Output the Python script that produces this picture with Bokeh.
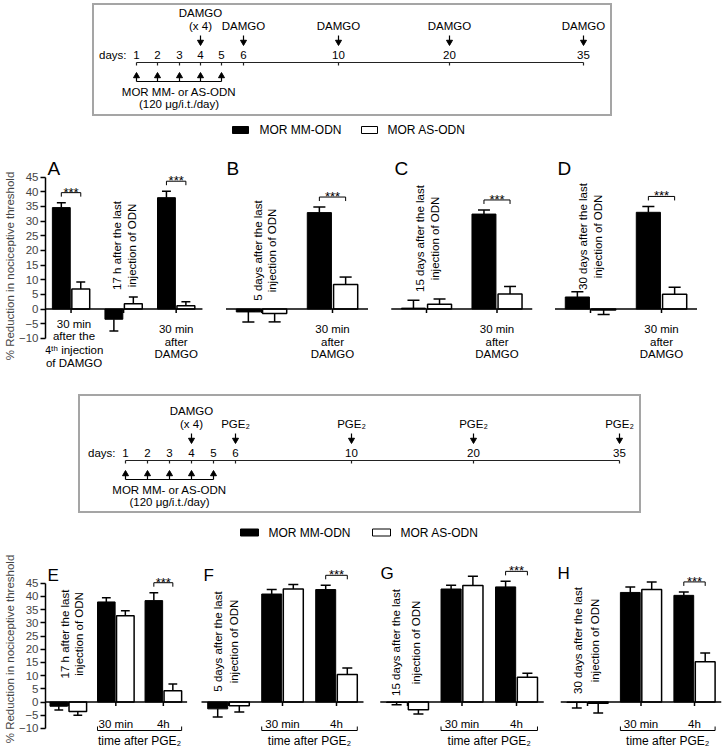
import math
from bokeh.plotting import figure
from bokeh.layouts import column, row
from bokeh.models import Range1d, FixedTicker, Spacer
from bokeh.embed import file_html
from bokeh.resources import INLINE
from bokeh.core.properties import value

FONT = "Liberation Sans"

# ============================ DATA ============================
series_labels = ["MOR MM-ODN", "MOR AS-ODN"]
series_fill = ["black", "white"]
y_ticks = [-10, -5, 0, 5, 10, 15, 20, 25, 30, 35, 40, 45]
y_title = "% Reduction in nociceptive threshold"

# Panels A-D : DAMGO (mean, SEM)
A_mm = [34.6, -3.5, 38.0]
A_mm_err = [1.7, 4.0, 2.2]
A_as = [6.8, 1.8, 1.1]
A_as_err = [2.4, 2.3, 1.4]
B_mm = [-1.0, 32.9]
B_mm_err = [3.4, 1.9]
B_as = [-1.5, 8.4]
B_as_err = [2.9, 2.5]
C_mm = [0.3, 32.4]
C_mm_err = [2.7, 1.4]
C_as = [1.6, 5.1]
C_as_err = [1.8, 2.6]
D_mm = [4.1, 33.0]
D_mm_err = [1.8, 2.0]
D_as = [-0.3, 5.0]
D_as_err = [1.6, 2.4]

# Panels E-H : PGE2 (mean, SEM)
E_mm = [-1.6, 37.9, 38.4]
E_mm_err = [1.4, 1.6, 3.0]
E_as = [-3.6, 32.7, 4.3]
E_as_err = [1.4, 1.9, 2.5]
F_mm = [-2.6, 40.9, 42.6]
F_mm_err = [3.1, 1.7, 1.6]
F_as = [-1.4, 42.8, 10.4]
F_as_err = [2.4, 1.7, 2.5]
G_mm = [-0.2, 42.8, 43.6]
G_mm_err = [0.8, 1.4, 2.1]
G_as = [-2.9, 44.1, 9.4]
G_as_err = [1.6, 3.5, 1.5]
H_mm = [-0.2, 41.5, 40.4]
H_mm_err = [2.1, 2.1, 1.3]
H_as = [-0.5, 42.6, 15.2]
H_as_err = [3.7, 2.9, 3.4]

# significant (***) groups per panel
sig_A = [0, 2]
sig_B = [1]
sig_C = [1]
sig_D = [1]
sig_E = [2]
sig_F = [2]
sig_G = [2]
sig_H = [2]

# panel texts
rot_A = ["17 h after the last", "injection of ODN"]
rot_B = ["5 days after the last", "injection of ODN"]
rot_C = ["15 days after the last", "injection of ODN"]
rot_D = ["30 days after the last", "injection of ODN"]
rot_E = ["17 h after the last", "injection of ODN"]
rot_F = ["5 days after the last", "injection of ODN"]
rot_G = ["15 days after the last", "injection of ODN"]
rot_H = ["30 days after the last", "injection of ODN"]
lab_4th = ["30 min", "after the", "4\u1d57\u02b0 injection", "of DAMGO"]
lab_damgo = ["30 min", "after", "DAMGO"]
lab_times = ["30 min", "4h"]
lab_time_after = "time after PGE\u2082"

# timelines
tl_days = ["1", "2", "3", "4", "5", "6", "10", "20", "35"]
odn_days = ["1", "2", "3", "4", "5"]
agent_days = ["4", "6", "10", "20", "35"]
tl1_agents = ["DAMGO", "DAMGO", "DAMGO", "DAMGO", "DAMGO"]
tl2_agents = ["DAMGO", "PGE\u2082", "PGE\u2082", "PGE\u2082", "PGE\u2082"]
repeat_day = "4"
repeat_note = "(x 4)"
odn_label = ["MOR MM- or AS-ODN", "(120 \u03bcg/i.t./day)"]

# ============================ LAYOUT ============================
W = 724
# schematic (non-linear) positions of the days on the two timelines, px
TL1_X = dict(zip(tl_days, [136, 157, 179, 200, 221, 243, 338, 449, 583]))
TL2_X = dict(zip(tl_days, [125, 147, 169, 191, 213, 235, 351, 473, 619]))

UP = dict(top=137, bot=394, zero=308.5, k=2.93, bw=0.34, off=0.185, lsize="19px")
LO = dict(top=543, bot=754, zero=701.5, k=2.64, bw=0.37, off=0.2, lsize="17px")
TL_FONT = "11.5px"


def txt(p, xs, ys, texts, size="11.5px", align="center", baseline="middle", angle=0.0):
    p.text(x=xs, y=ys, text=texts, angle=angle, text_align=align, text_baseline=baseline,
           text_font=value(FONT), text_font_size=size, text_color="black")


def sgn(v):
    return 1 if v >= 0 else -1


def bar_panel(geo, fx0, fx1, g0, s, mm, mm_err, as_, as_err, sig, axis_x=None):
    k = geo["k"]
    zero = geo["zero"]
    bw = geo["bw"]
    off = geo["off"]
    frame_x0 = axis_x if axis_x else fx0

    def X(xr):
        return (xr - g0) / s

    def Y(yr):
        return (zero - yr) / k

    p = figure(width=fx1 - fx0, height=geo["bot"] - geo["top"],
               x_range=Range1d(X(frame_x0), X(fx1)),
               y_range=Range1d(Y(geo["bot"]), Y(geo["top"])),
               toolbar_location=None, output_backend="svg",
               x_axis_location=None, y_axis_location=("left" if axis_x else None),
               min_border_left=(frame_x0 - fx0), min_border_right=0,
               min_border_top=0, min_border_bottom=0,
               outline_line_color=None, border_fill_color="white",
               background_fill_color="white")
    if axis_x:
        ax = p.yaxis[0]
        ax.ticker = FixedTicker(ticks=y_ticks)
        ax.bounds = (y_ticks[0], y_ticks[-1])
        ax.axis_label = y_title
        ax.axis_label_text_font = FONT
        ax.axis_label_text_font_size = "11.5px"
        ax.axis_label_text_font_style = "normal"
        ax.axis_label_standoff = 0
        ax.major_label_text_font = FONT
        ax.major_label_text_font_size = "11.5px"
        ax.major_label_standoff = 2
        ax.major_tick_out = 5
        ax.major_tick_in = 0
        ax.minor_tick_out = 0
        ax.minor_tick_in = 0
        ax.axis_line_width = 1.5
        ax.major_tick_line_width = 1.5
    p.grid.visible = False

    n = len(mm)
    groups = list(range(n))
    x_mm = [g - off for g in groups]
    x_as = [g + off for g in groups]
    p.vbar(x=x_mm, top=mm, bottom=0, width=bw, fill_color=series_fill[0], line_color="black", line_width=1)
    p.vbar(x=x_as, top=as_, bottom=0, width=bw, fill_color=series_fill[1], line_color="black", line_width=1.5)
    for xs, vals, errs in ((x_mm, mm, mm_err), (x_as, as_, as_err)):
        ends = [v + sgn(v) * e for v, e in zip(vals, errs)]
        p.segment(x0=xs, y0=vals, x1=xs, y1=ends, line_color="black", line_width=1.5)
        p.segment(x0=[x - bw / 4 for x in xs], y0=ends, x1=[x + bw / 4 for x in xs], y1=ends,
                  line_color="black", line_width=1.5)
    # x axis at zero with ticks at group centres
    p.segment(x0=[max(-0.5, X(frame_x0))], y0=[0], x1=[n - 0.5], y1=[0], line_color="black", line_width=1.5)
    p.segment(x0=groups, y0=[0] * n, x1=groups, y1=[-4 / k] * n, line_color="black", line_width=1.5)
    # significance brackets
    for g in sig:
        yb = max(mm[g] + mm_err[g], as_[g] + as_err[g]) + 10 / k
        xl, xr = g - off, g + off
        p.segment(x0=[xl, xl, xr], y0=[yb, yb, yb], x1=[xr, xl, xr], y1=[yb, yb - 4 / k, yb - 4 / k],
                  line_color="black", line_width=1)
        txt(p, [g], [yb + 0.5 / k], ["***"], size="13px", baseline="alphabetic")
    return p, X, Y


def rotated(p, Y, g, s, dxs, yc, lines):
    xs = [g + dx / s for dx in dxs]
    txt(p, xs, [Y(yc)] * len(lines), lines, size="11.5px", angle=math.pi / 2)


def letter(p, X, Y, geo, xr, yr, t):
    txt(p, [X(xr)], [Y(yr)], [t], size=geo["lsize"], align="left", baseline="alphabetic")


# ---------------- upper panels A-D ----------------
pA, XA, YA = bar_panel(UP, 0, 213, 68, 53.5, A_mm, A_mm_err, A_as, A_as_err, sig_A, axis_x=42)
letter(pA, XA, YA, UP, 44, 168, "A")
rotated(pA, YA, 1, 53.5, (-7, 9), 245, rot_A)
txt(pA, [XA(71)] * 4, [YA(v) for v in (323, 335, 349, 362)], lab_4th)
txt(pA, [2] * 3, [YA(v) for v in (328, 341, 353)], lab_damgo)

pB, XB, YB = bar_panel(UP, 213, 378, 261, 71, B_mm, B_mm_err, B_as, B_as_err, sig_B)
letter(pB, XB, YB, UP, 226, 168, "B")
rotated(pB, YB, 0, 71, (-4, 10), 250, rot_B)
txt(pB, [1] * 3, [YB(v) for v in (328, 341, 353)], lab_damgo)

pC, XC, YC = bar_panel(UP, 378, 543, 426, 70.5, C_mm, C_mm_err, C_as, C_as_err, sig_C)
letter(pC, XC, YC, UP, 394, 168, "C")
rotated(pC, YC, 0, 70.5, (-7, 8), 238, rot_C)
txt(pC, [1] * 3, [YC(v) for v in (328, 341, 353)], lab_damgo)

pD, XD, YD = bar_panel(UP, 543, W, 590, 71, D_mm, D_mm_err, D_as, D_as_err, sig_D)
letter(pD, XD, YD, UP, 557, 168, "D")
rotated(pD, YD, 0, 71, (-8, 7), 236, rot_D)
txt(pD, [1] * 3, [YD(v) for v in (328, 341, 353)], lab_damgo)


# ---------------- lower panels E-H ----------------
def time_bracket(p, Y, geo):
    k = geo["k"]
    off, bw = geo["off"], geo["bw"]
    xl, xr = 1 - off - bw / 2, 2 + off + bw / 2
    yb = Y(730)
    p.segment(x0=[xl, xl, xr], y0=[yb, yb, yb], x1=[xr, xl, xr], y1=[yb, yb + 4 / k, yb + 4 / k],
              line_color="black", line_width=1)
    txt(p, [1, 2], [Y(723)] * 2, lab_times)
    txt(p, [(xl + xr) / 2], [Y(740)], [lab_time_after], size="12px")


pE, XE, YE = bar_panel(LO, 0, 198, 61, 50, E_mm, E_mm_err, E_as, E_as_err, sig_E, axis_x=37)
letter(pE, XE, YE, LO, 39, 575, "E")
rotated(pE, YE, 0, 50, (-4, 11), 633.5, rot_E)
time_bracket(pE, YE, LO)

pF, XF, YF = bar_panel(LO, 198, 370, 228, 54, F_mm, F_mm_err, F_as, F_as_err, sig_F)
letter(pF, XF, YF, LO, 203, 575, "F")
rotated(pF, YF, 0, 54, (-11, 5), 641, rot_F)
time_bracket(pF, YF, LO)

pG, XG, YG = bar_panel(LO, 370, 548, 407, 54.5, G_mm, G_mm_err, G_as, G_as_err, sig_G)
letter(pG, XG, YG, LO, 380, 573, "G")
rotated(pG, YG, 0, 54.5, (-12, 8), 642, rot_G)
time_bracket(pG, YG, LO)

pH, XH, YH = bar_panel(LO, 548, W, 587, 53.5, H_mm, H_mm_err, H_as, H_as_err, sig_H)
letter(pH, XH, YH, LO, 557, 573, "H")
rotated(pH, YH, 0, 53.5, (-10, 7), 640, rot_H)
time_bracket(pH, YH, LO)


# ---------------- timelines ----------------
def timeline(x0, x1, y0, y1, day_x, base, agents):
    p = figure(width=x1 - x0, height=y1 - y0, x_range=Range1d(x0, x1), y_range=Range1d(y1, y0),
               toolbar_location=None, output_backend="svg",
               x_axis_location=None, y_axis_location=None, min_border=0,
               outline_line_color="#a5a5a5", outline_line_width=3)
    p.grid.visible = False
    xs = [day_x[d] for d in tl_days]
    n = len(xs)
    txt(p, xs, [base - 7.5] * n, tl_days, size=TL_FONT)
    txt(p, [xs[0] - 10], [base - 7.5], ["days:"], size=TL_FONT, align="right")
    p.segment(x0=[xs[0]], y0=[base], x1=[xs[-1]], y1=[base], line_color="#222222", line_width=1.2)
    p.segment(x0=xs, y0=[base] * n, x1=xs, y1=[base + 3] * n, line_color="#222222", line_width=1.2)
    ax = [day_x[d] for d in agent_days]
    m = len(ax)
    p.segment(x0=ax, y0=[base - 27] * m, x1=ax, y1=[base - 20] * m, line_color="black", line_width=1.2)
    p.scatter(x=ax, y=[base - 20.5] * m, marker="inverted_triangle", size=6,
              fill_color="black", line_color="black")
    single = [(x, a) for x, a, d in zip(ax, agents, agent_days) if d != repeat_day]
    txt(p, [x for x, _ in single], [base - 37] * len(single), [a for _, a in single], size=TL_FONT)
    ri = agent_days.index(repeat_day)
    rx = day_x[repeat_day]
    txt(p, [rx, rx], [base - 50, base - 37], [agents[ri], repeat_note], size=TL_FONT)
    ox = [day_x[d] for d in odn_days]
    q = len(ox)
    p.segment(x0=ox, y0=[base + 19] * q, x1=ox, y1=[base + 13] * q, line_color="black", line_width=1.2)
    p.scatter(x=ox, y=[base + 13.5] * q, marker="triangle", size=6, fill_color="black", line_color="black")
    p.segment(x0=[ox[0]], y0=[base + 19], x1=[ox[-1]], y1=[base + 19], line_color="black", line_width=1.2)
    cx = (ox[0] + ox[-1]) / 2
    txt(p, [cx, cx], [base + 29.5, base + 41], odn_label, size=TL_FONT)
    return p


tl1 = timeline(92, 612, 3, 116, TL1_X, 62, tl1_agents)
tl2 = timeline(78, 641, 394, 513, TL2_X, 460, tl2_agents)


# ---------------- legends ----------------
def legend_fig(top, bot, yc, sw_x, sw_w, lab_x):
    p = figure(width=W, height=bot - top, x_range=Range1d(0, W), y_range=Range1d(bot, top),
               toolbar_location=None, output_backend="svg",
               x_axis_location=None, y_axis_location=None, min_border=0, outline_line_color=None)
    p.grid.visible = False
    p.rect(x=[x + sw_w / 2 for x in sw_x], y=[yc] * 2, width=sw_w, height=7,
           fill_color=series_fill, line_color="black", line_width=1)
    txt(p, lab_x, [yc] * 2, series_labels, size="12px", align="left")
    return p


leg1 = legend_fig(116, 137, 129.5, [232, 361], 16, [259, 387])
leg2 = legend_fig(513, 543, 532, [240, 372], 18, [268, 400])

layout = column(
    Spacer(width=W, height=3),
    row(Spacer(width=92, height=113), tl1),
    leg1,
    row(pA, pB, pC, pD),
    row(Spacer(width=78, height=119), tl2),
    leg2,
    row(pE, pF, pG, pH),
)

with open("out.html", "w", encoding="utf-8") as f:
    f.write(file_html(layout, INLINE, title="MOR ODN"))
